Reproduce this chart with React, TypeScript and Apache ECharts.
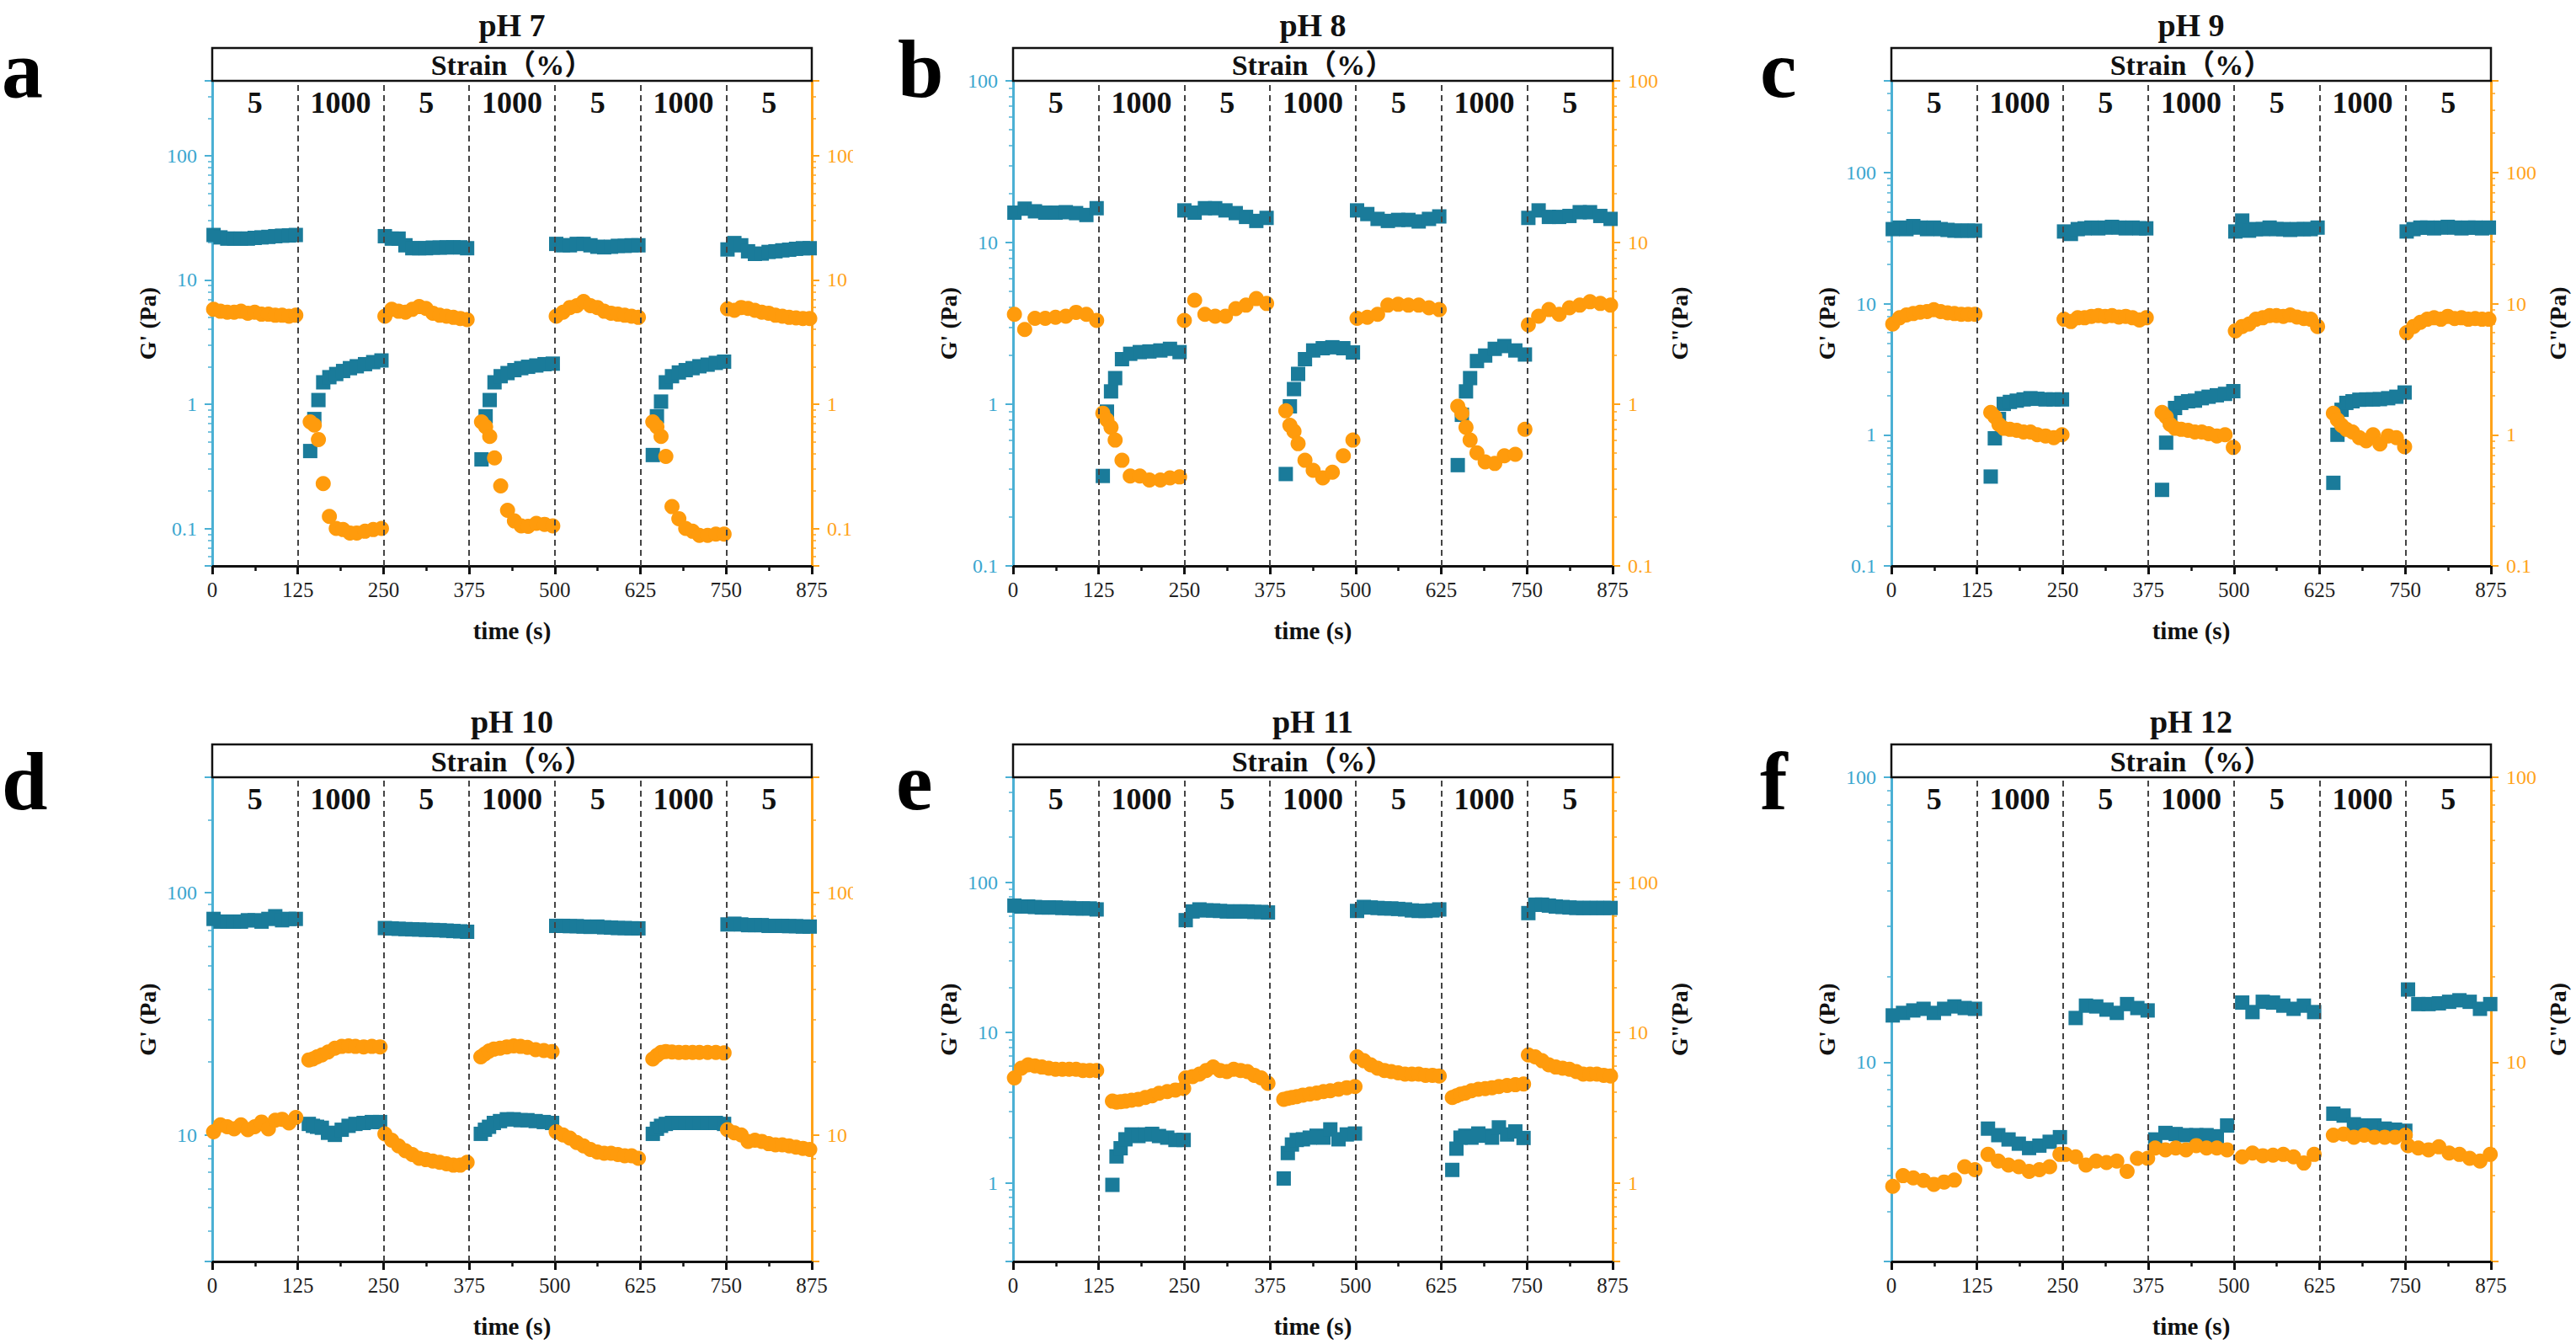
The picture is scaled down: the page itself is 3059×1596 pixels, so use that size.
import React, { useEffect, useRef } from "react";
import * as echarts from "echarts";

// ---------- shared axis / annotation data ----------
const TIME_MAX = 875;
const TIME_INTERVAL = 125;
const SWITCH_TIMES = [125, 250, 375, 500, 625, 750];
const STRAIN_LEVELS = ["5", "1000", "5", "1000", "5", "1000", "5"];
const SEGMENT_MIDS = [62.5, 187.5, 312.5, 437.5, 562.5, 687.5, 812.5];
const STRAIN_TITLE = "Strain（%）";

// sampling offsets (s) inside each strain step, relative to the first point of the step
const OFFS_DENSE_LOW = [0, 10, 20, 30, 40, 50, 60, 70, 80, 90, 100, 110, 120];
const OFFS_DENSE_HIGH = [0, 6, 12, 19, 28, 38, 48, 58, 68, 80, 92, 104];
const OFFS_SPARSE_LOW = [0, 15, 30, 45, 60, 75, 90, 105, 120];
const OFFS_SPARSE_HIGH = [0, 6, 12, 18, 28, 40, 54, 68, 84, 98, 112];

// ---------- pH 7 ----------
const PH7_STARTS = [2, 143, 252, 393, 502, 643, 752];
const PH7_GP = [
  [23, 22, 21.5, 21.5, 21.5, 21.5, 21.8, 22, 22.2, 22.5, 22.7, 22.8, 23],
  [0.42, 0.76, 1.08, 1.5, 1.65, 1.75, 1.85, 1.95, 2.02, 2.1, 2.18, 2.25],
  [22.5, 21.5, 21.5, 19, 18, 18, 18, 18.2, 18.2, 18.3, 18.3, 18.3, 18],
  [0.36, 0.8, 1.08, 1.5, 1.68, 1.78, 1.88, 1.95, 2.0, 2.05, 2.1, 2.12],
  [19.5, 19, 19, 19.5, 19.5, 19, 18.5, 18.3, 18.5, 18.8, 18.8, 19, 19],
  [0.39, 0.8, 1.05, 1.5, 1.68, 1.8, 1.88, 1.95, 2.02, 2.08, 2.15, 2.2],
  [17.6, 19.8, 19, 17, 16.2, 16.3, 16.8, 17.0, 17.3, 17.5, 17.8, 18, 18],
];
const PH7_GPP = [
  [5.8, 5.6, 5.5, 5.5, 5.6, 5.4, 5.5, 5.3, 5.3, 5.2, 5.2, 5.1, 5.2],
  [0.72, 0.68, 0.52, 0.23, 0.125, 0.1, 0.098, 0.092, 0.092, 0.095, 0.098, 0.1],
  [5.1, 5.8, 5.6, 5.5, 5.8, 6.1, 5.9, 5.4, 5.2, 5.1, 5.0, 4.9, 4.8],
  [0.72, 0.66, 0.55, 0.37, 0.22, 0.14, 0.115, 0.105, 0.104, 0.11, 0.108, 0.105],
  [5.1, 5.5, 6.0, 6.2, 6.7, 6.2, 6.0, 5.6, 5.4, 5.3, 5.2, 5.1, 5.0],
  [0.72, 0.66, 0.55, 0.38, 0.15, 0.12, 0.1, 0.095, 0.088, 0.088, 0.09, 0.09],
  [5.85, 5.7, 6.0, 5.9, 5.7, 5.5, 5.4, 5.2, 5.1, 5.0, 4.95, 4.9, 4.9],
];

// ---------- pH 8 ----------
const PH8_STARTS = [2, 131, 250, 398, 502, 649, 752];
const PH8_GP = [
  [15.3, 16.2, 15.6, 15.3, 15.3, 15.4, 15.2, 14.8, 16.3],
  [0.36, 0.9, 1.2, 1.45, 1.9, 2.05, 2.1, 2.12, 2.15, 2.2, 2.1],
  [15.8, 15.3, 16.3, 16.3, 15.8, 15.2, 14.4, 13.6, 14.2],
  [0.37, 0.97, 1.24, 1.54, 1.9, 2.15, 2.22, 2.25, 2.22, 2.09],
  [15.8, 15.0, 14.0, 13.6, 13.8, 13.8, 13.5, 14.0, 14.5],
  [0.42, 0.86, 1.2, 1.45, 1.85, 2.0, 2.2, 2.29, 2.15, 2.03],
  [14.2, 15.8, 14.4, 14.4, 14.6, 15.4, 15.4, 14.6, 14.0],
];
const PH8_GPP = [
  [3.6, 2.9, 3.4, 3.4, 3.45, 3.5, 3.7, 3.6, 3.3],
  [0.88, 0.8, 0.72, 0.6, 0.45, 0.36, 0.36, 0.34, 0.34, 0.35, 0.355],
  [3.3, 4.4, 3.6, 3.5, 3.5, 3.9, 4.1, 4.5, 4.2],
  [0.91, 0.74, 0.68, 0.57, 0.45, 0.39, 0.35, 0.38, 0.48, 0.6],
  [3.4, 3.45, 3.6, 4.1, 4.15, 4.1, 4.1, 3.95, 3.85],
  [0.97, 0.88, 0.72, 0.6, 0.5, 0.44, 0.43, 0.48, 0.49, 0.7],
  [3.1, 3.5, 3.85, 3.6, 3.95, 4.1, 4.3, 4.2, 4.1],
];

// ---------- pH 9 ----------
const PH9_STARTS = [2, 145, 252, 395, 502, 645, 752];
const PH9_GP = [
  [37, 38, 37, 39, 38, 37, 38, 37, 36.5, 36, 36, 36, 36],
  [0.48, 0.94, 1.32, 1.72, 1.78, 1.82, 1.86, 1.9, 1.88, 1.86, 1.86, 1.86],
  [35.5, 34, 37, 37.5, 38, 37.5, 38, 38.5, 38, 37.5, 38, 37.5, 37.5],
  [0.38, 0.87, 1.3, 1.6, 1.75, 1.8, 1.82, 1.9, 1.95, 2.0, 2.05, 2.15],
  [35.5, 43, 36, 37, 37, 38, 37, 37, 36.5, 37, 37, 37, 38],
  [0.43, 1.0, 1.55, 1.75, 1.8, 1.85, 1.86, 1.86, 1.87, 1.9, 1.95, 2.1],
  [35.5, 37, 38, 38, 37.5, 38, 38.5, 38, 37.5, 38, 38, 37.5, 38],
];
const PH9_GPP = [
  [7.0, 7.8, 8.2, 8.4, 8.6, 8.7, 9.0, 8.7, 8.5, 8.4, 8.3, 8.3, 8.3],
  [1.48, 1.37, 1.2, 1.12, 1.1, 1.08, 1.05, 1.05, 1.0, 0.98, 0.95, 1.0],
  [7.6, 7.3, 7.8, 7.8, 8.0, 8.1, 8.0, 8.1, 7.9, 8.0, 7.8, 7.5, 7.8],
  [1.48, 1.37, 1.2, 1.12, 1.1, 1.08, 1.05, 1.05, 1.02, 0.98, 1.0, 0.8],
  [6.2, 6.7, 7.0, 7.6, 7.8, 8.1, 8.1, 8.0, 8.2, 7.9, 7.7, 7.6, 6.7],
  [1.46, 1.3, 1.18, 1.1, 1.05, 0.95, 0.9, 1.0, 0.85, 0.98, 0.95, 0.81],
  [6.0, 6.7, 7.2, 7.6, 7.8, 7.6, 8.0, 7.7, 7.8, 7.6, 7.7, 7.6, 7.6],
];

// ---------- pH 10 ----------
const PH10_STARTS = [2, 141, 252, 392, 502, 643, 752];
const PH10_GP = [
  [78, 76, 76, 76, 76, 77, 77, 76, 78, 80, 77, 78, 78],
  [11.1, 10.9, 10.8, 10.7, 10.2, 10.0, 10.5, 10.9, 11.1, 11.2, 11.3, 11.3],
  [71.5, 71.2, 71, 70.8, 70.6, 70.5, 70.3, 70.2, 70, 69.8, 69.5, 69.3, 69],
  [10.1, 10.5, 10.8, 11.2, 11.4, 11.6, 11.6, 11.5, 11.5, 11.4, 11.3, 11.2],
  [73, 73, 72.8, 72.8, 72.5, 72.3, 72.5, 72, 71.8, 71.5, 71.5, 71.3, 71.3],
  [10.1, 10.6, 10.9, 11.1, 11.2, 11.2, 11.2, 11.2, 11.2, 11.2, 11.2, 11.1],
  [74, 74.5, 74, 73.5, 73.5, 73.5, 73, 73, 73, 72.8, 72.8, 72.5, 72.5],
];
const PH10_GPP = [
  [10.3, 11.0, 10.8, 10.6, 11.0, 10.5, 10.8, 11.3, 10.6, 11.5, 11.6, 11.2, 11.8],
  [20.4, 20.6, 21.0, 21.4, 22.0, 22.8, 23.2, 23.3, 23.2, 23.1, 23.2, 23.1],
  [10.1, 9.5, 9.0, 8.6, 8.3, 8.0, 7.9, 7.8, 7.7, 7.6, 7.5, 7.5, 7.7],
  [21.0, 21.6, 22.2, 22.6, 22.8, 23.1, 23.3, 23.2, 23.0, 22.5, 22.3, 22.1],
  [10.3, 10.0, 9.7, 9.3, 9.0, 8.7, 8.5, 8.4, 8.4, 8.3, 8.2, 8.2, 8.0],
  [20.6, 21.3, 21.9, 22.1, 22.0, 21.9, 21.9, 21.9, 21.9, 21.9, 21.9, 21.8],
  [10.5, 10.2, 10.0, 9.4, 9.5, 9.4, 9.2, 9.1, 9.1, 9.0, 8.9, 8.8, 8.7],
];

// ---------- pH 11 ----------
const PH11_STARTS = [2, 145, 252, 395, 502, 641, 752];
const PH11_GP = [
  [70, 69, 69, 68.5, 68, 68, 68, 67.5, 67.5, 67, 67, 67, 66],
  [0.97, 1.5, 1.7, 1.95, 2.1, 2.05, 2.1, 2.12, 2.05, 2.0, 1.93, 1.93],
  [56, 64, 66, 65, 65, 64.5, 64, 64, 64, 64, 63.5, 63.5, 63],
  [1.07, 1.58, 1.8, 1.93, 1.95, 2.0, 2.06, 2.0, 2.27, 1.95, 2.1, 2.13],
  [64.5, 68.6, 68, 67.5, 67, 67, 66.5, 66, 65, 64.5, 64.5, 65, 66],
  [1.22, 1.69, 2.0, 2.06, 2.0, 2.13, 2.06, 2.0, 2.34, 2.1, 2.2, 1.99],
  [62.4, 71, 71, 70, 69, 68.5, 68, 67.5, 67.5, 67.5, 67.5, 67.5, 67.5],
];
const PH11_GPP = [
  [5.0, 5.8, 6.1, 6.0, 5.9, 5.8, 5.7, 5.7, 5.7, 5.7, 5.6, 5.6, 5.6],
  [3.5, 3.45, 3.47, 3.5, 3.55, 3.6, 3.7, 3.8, 3.95, 4.05, 4.15, 4.25],
  [5.0, 5.1, 5.3, 5.6, 5.9, 5.6, 5.5, 5.7, 5.6, 5.5, 5.2, 5.0, 4.6],
  [3.6, 3.65, 3.7, 3.75, 3.84, 3.9, 3.96, 4.05, 4.1, 4.2, 4.3, 4.38],
  [6.9, 6.5, 6.1, 5.8, 5.6, 5.5, 5.4, 5.3, 5.3, 5.3, 5.2, 5.2, 5.15],
  [3.7, 3.8, 3.9, 3.96, 4.1, 4.2, 4.24, 4.3, 4.38, 4.45, 4.5, 4.55],
  [7.1, 6.9, 6.5, 6.1, 5.9, 5.8, 5.7, 5.5, 5.3, 5.3, 5.3, 5.2, 5.15],
];

// ---------- pH 12 ----------
const PH12_STARTS = [2, 141, 254, 385, 512, 645, 754];
const PH12_GP = [
  [14.6, 14.9, 15.2, 15.4, 14.9, 15.4, 15.7, 15.5, 15.4],
  [5.85, 5.55, 5.36, 5.18, 5.0, 5.1, 5.26, 5.46],
  [null, 14.3, 15.8, 15.7, 15.3, 14.9, 16.0, 15.5, 15.2],
  [5.36, 5.65, 5.6, 5.55, 5.55, 5.55, 5.5, 6.0],
  [16.2, 15.0, 16.3, 16.2, 15.8, 15.4, 15.8, 15.0],
  [6.6, 6.5, 6.06, 6.0, 6.0, 5.85, 5.8, 5.75],
  [18.0, 16.0, 16.0, 16.1, 16.3, 16.5, 16.3, 15.4, 16.0],
];
const PH12_GPP = [
  [3.67, 4.0, 3.93, 3.85, 3.73, 3.8, 3.86, 4.3, 4.2],
  [4.75, 4.5, 4.36, 4.3, 4.14, 4.2, 4.3, 4.75],
  [4.75, 4.66, 4.36, 4.5, 4.45, 4.5, 4.14, 4.6, 4.6],
  [5.0, 4.93, 5.0, 4.93, 5.1, 5.0, 5.0, 4.93],
  [4.66, 4.8, 4.7, 4.72, 4.75, 4.66, 4.43, 4.75],
  [5.55, 5.6, 5.46, 5.55, 5.46, 5.46, 5.46, 5.55],
  [5.1, 5.0, 4.93, 5.05, 4.8, 4.75, 4.6, 4.5, 4.75],
];

// y-axis ranges (Pa) per panel
const Y_RANGES = [
  [0.05, 400],
  [0.1, 100],
  [0.1, 500],
  [3, 300],
  [0.3, 500],
  [2, 100],
];

type Panel = {
  letter: string;
  title: string;
  starts: number[];
  gp: (number | null)[][];
  gpp: (number | null)[][];
  offsLow: number[];
  offsHigh: number[];
  rightName: boolean;
};

const PANELS: Panel[] = [
  { letter: "a", title: "pH 7", starts: PH7_STARTS, gp: PH7_GP, gpp: PH7_GPP, offsLow: OFFS_DENSE_LOW, offsHigh: OFFS_DENSE_HIGH, rightName: false },
  { letter: "b", title: "pH 8", starts: PH8_STARTS, gp: PH8_GP, gpp: PH8_GPP, offsLow: OFFS_SPARSE_LOW, offsHigh: OFFS_SPARSE_HIGH, rightName: true },
  { letter: "c", title: "pH 9", starts: PH9_STARTS, gp: PH9_GP, gpp: PH9_GPP, offsLow: OFFS_DENSE_LOW, offsHigh: OFFS_DENSE_HIGH, rightName: true },
  { letter: "d", title: "pH 10", starts: PH10_STARTS, gp: PH10_GP, gpp: PH10_GPP, offsLow: OFFS_DENSE_LOW, offsHigh: OFFS_DENSE_HIGH, rightName: false },
  { letter: "e", title: "pH 11", starts: PH11_STARTS, gp: PH11_GP, gpp: PH11_GPP, offsLow: OFFS_DENSE_LOW, offsHigh: OFFS_DENSE_HIGH, rightName: true },
  { letter: "f", title: "pH 12", starts: PH12_STARTS, gp: PH12_GP, gpp: PH12_GPP, offsLow: OFFS_SPARSE_LOW, offsHigh: OFFS_SPARSE_LOW, rightName: true },
];

// ---------- layout & style ----------
const W_PAGE = 3059;
const H_PAGE = 1596;
const COL_LEFTS = [252, 1203, 2246];
const ROW_TOPS = [96, 923];
const ROW_HEIGHTS = [576, 575];
const PLOT_W = 712;
const BOX_H = 39;
const TITLE_Y = [30, 857];
const STRAIN_Y = [77, 904];
const LEVEL_Y = [122, 949];
const LETTER_X = [2, 1066, 2090, 2, 1064, 2090];
const LETTER_Y = [82, 928];

const FONT = '"Liberation Serif", "Times New Roman", "Noto Sans CJK SC", serif';
const TEAL = "#1a7b9a";
const ORANGE = "#ff9b0c";
const BLUE_AXIS = "#4bb0d4";
const BLUE_LABEL = "#3aa6cf";
const ORANGE_AXIS = "#ffa31a";
const ORANGE_LABEL = "#ffa31a";
const INK = "#111";

function toPoints(starts: number[], segs: (number | null)[][], offsLow: number[], offsHigh: number[]) {
  const out: number[][] = [];
  segs.forEach((vals, k) => {
    const offs = k % 2 === 0 ? offsLow : offsHigh;
    vals.forEach((v, j) => {
      if (v !== null && v !== undefined) out.push([starts[k] + offs[j], v]);
    });
  });
  return out;
}

function decadeLabel(v: number) {
  const l = Math.log10(v);
  const r = Math.round(l);
  if (Math.abs(l - r) > 1e-6) return "";
  const p = Math.pow(10, r);
  return r >= 0 ? String(Math.round(p)) : String(Number(p.toFixed(-r)));
}

function makeY(gridIndex: number, position: "left" | "right", range: number[], lineColor: string, labelColor: string, name: string) {
  return {
    gridIndex,
    type: "log",
    logBase: 10,
    position,
    min: range[0],
    max: range[1],
    name,
    nameLocation: "middle",
    nameRotate: 90,
    nameGap: position === "left" ? 63 : 65,
    nameTextStyle: { fontFamily: FONT, fontSize: 28, fontWeight: "bold", color: INK },
    axisLine: { show: true, lineStyle: { color: lineColor, width: 3 } },
    axisTick: { show: true, inside: false, length: 9, lineStyle: { color: lineColor, width: 2 } },
    minorTick: { show: true, splitNumber: 9, length: 5, lineStyle: { color: lineColor, width: 1.5 } },
    axisLabel: { fontFamily: FONT, fontSize: 24, color: labelColor, margin: 18, formatter: decadeLabel },
    splitLine: { show: false },
    minorSplitLine: { show: false },
  };
}

function buildOption() {
  const grid: any[] = [];
  const xAxis: any[] = [];
  const yAxis: any[] = [];
  const series: any[] = [];
  PANELS.forEach((p, i) => {
    const col = i % 3;
    const row = Math.floor(i / 3);
    grid.push({ left: COL_LEFTS[col], top: ROW_TOPS[row], width: PLOT_W, height: ROW_HEIGHTS[row], containLabel: false });
    xAxis.push({
      gridIndex: i,
      type: "value",
      min: 0,
      max: TIME_MAX,
      interval: TIME_INTERVAL,
      name: "time (s)",
      nameLocation: "middle",
      nameGap: 62,
      nameTextStyle: { fontFamily: FONT, fontSize: 29, fontWeight: "bold", color: INK },
      axisLine: { show: true, onZero: false, lineStyle: { color: INK, width: 3 } },
      axisTick: { show: true, inside: false, length: 10, lineStyle: { color: INK, width: 3 } },
      minorTick: { show: true, splitNumber: 2, length: 6, lineStyle: { color: INK, width: 2.5 } },
      axisLabel: { fontFamily: FONT, fontSize: 25, color: "#222", margin: 16 },
      splitLine: { show: false },
    });
    yAxis.push(makeY(i, "left", Y_RANGES[i], BLUE_AXIS, BLUE_LABEL, "G' (Pa)"));
    yAxis.push(makeY(i, "right", Y_RANGES[i], ORANGE_AXIS, ORANGE_LABEL, p.rightName ? 'G"(Pa)' : ""));
    series.push({
      type: "scatter",
      name: "G'",
      xAxisIndex: i,
      yAxisIndex: 2 * i,
      data: toPoints(p.starts, p.gp, p.offsLow, p.offsHigh),
      symbol: "rect",
      symbolSize: 17,
      itemStyle: { color: TEAL, opacity: 1 },
      z: 2,
      markLine: {
        silent: true,
        symbol: ["none", "none"],
        label: { show: false },
        lineStyle: { type: [7, 5], color: "#444", width: 2 },
        data: SWITCH_TIMES.map((t) => ({ xAxis: t })),
      },
    });
    series.push({
      type: "scatter",
      name: 'G"',
      xAxisIndex: i,
      yAxisIndex: 2 * i + 1,
      data: toPoints(p.starts, p.gpp, p.offsLow, p.offsHigh),
      symbol: "circle",
      symbolSize: 18,
      itemStyle: { color: ORANGE, opacity: 1 },
      z: 3,
    });
  });
  return { animation: false, grid, xAxis, yAxis, series };
}

function buildGraphics(chart: echarts.ECharts) {
  const g: any[] = [];
  PANELS.forEach((p, i) => {
    const col = i % 3;
    const row = Math.floor(i / 3);
    const left = COL_LEFTS[col];
    const top = ROW_TOPS[row];
    g.push({
      type: "rect",
      z: 50,
      shape: { x: left, y: top - BOX_H, width: PLOT_W, height: BOX_H },
      style: { fill: "none", stroke: INK, lineWidth: 2.5 },
    });
    g.push({
      type: "text",
      z: 50,
      x: left + PLOT_W / 2,
      y: STRAIN_Y[row],
      style: { text: STRAIN_TITLE, font: `bold 34px ${FONT}`, fill: INK, align: "center", verticalAlign: "middle" },
    });
    g.push({
      type: "text",
      z: 50,
      x: left + PLOT_W / 2,
      y: TITLE_Y[row],
      style: { text: p.title, font: `bold 38px ${FONT}`, fill: INK, align: "center", verticalAlign: "middle" },
    });
    g.push({
      type: "text",
      z: 120,
      x: LETTER_X[i],
      y: LETTER_Y[row],
      style: { text: p.letter, font: `bold 98px ${FONT}`, fill: "#000", align: "left", verticalAlign: "middle" },
    });
    SEGMENT_MIDS.forEach((t, k) => {
      const px = chart.convertToPixel({ xAxisIndex: i } as any, t) as unknown as number;
      g.push({
        type: "text",
        z: 50,
        x: px,
        y: LEVEL_Y[row],
        style: { text: STRAIN_LEVELS[k], font: `bold 36px ${FONT}`, fill: INK, align: "center", verticalAlign: "middle" },
      });
    });
  });
  // the neighbouring panel covers the overflow of the left column's right-axis labels
  g.push({
    type: "rect",
    z: 100,
    shape: { x: 1013, y: 0, width: 46, height: H_PAGE },
    style: { fill: "#fff" },
  });
  return g;
}

export default function App() {
  const ref = useRef<HTMLDivElement>(null);
  useEffect(() => {
    if (!ref.current) return;
    const chart = echarts.init(ref.current, undefined, { renderer: "svg", width: W_PAGE, height: H_PAGE });
    chart.setOption(buildOption() as any);
    chart.setOption({ graphic: buildGraphics(chart) } as any);
    return () => chart.dispose();
  }, []);
  return (
    <div
      ref={ref}
      style={{ position: "fixed", left: 0, top: 0, width: W_PAGE, height: H_PAGE, background: "#fff" }}
    />
  );
}
